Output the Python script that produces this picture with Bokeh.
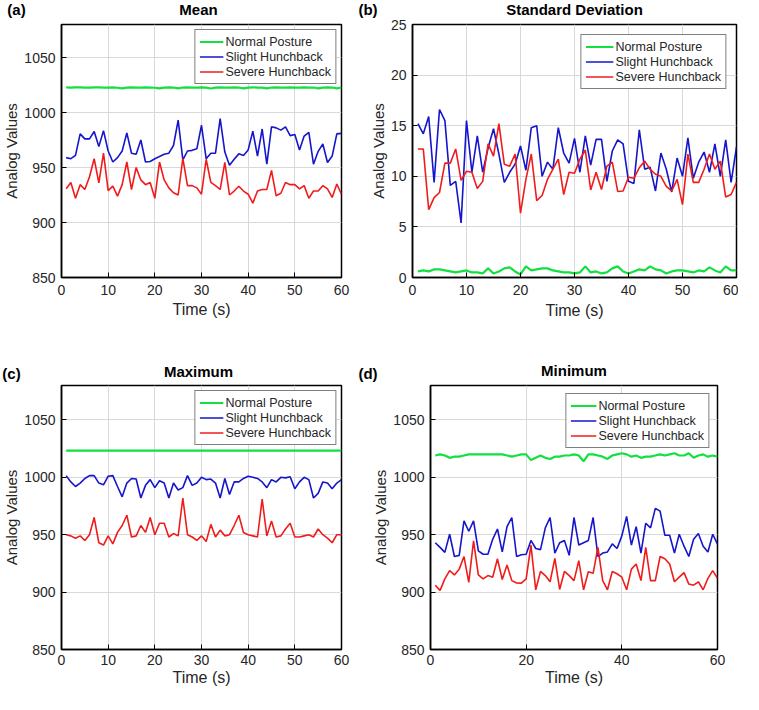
from bokeh.plotting import figure
from bokeh.models import Range1d, FixedTicker, Label
from bokeh.layouts import column, row
from bokeh.embed import file_html
from bokeh.resources import INLINE

time_s = list(range(1, 61))
series_names = ["Normal Posture", "Slight Hunchback", "Severe Hunchback"]
series_colors = ["#12e040", "#1515cc", "#f01c1c"]
series_widths = [2.2, 1.6, 1.6]

panel_tags = ["(a)", "(b)", "(c)", "(d)"]
panel_titles = ["Mean", "Standard Deviation", "Maximum", "Minimum"]

xticks_fine = [0, 10, 20, 30, 40, 50, 60]
xticks_coarse = [0, 20, 40, 60]
yticks_analog = [850, 900, 950, 1000, 1050]
yticks_sd = [0, 5, 10, 15, 20, 25]

mean_normal = [1022.8, 1022.6, 1022.8, 1022.9, 1022.7, 1022.6, 1022.8, 1022.9, 1022.7, 1022.6,
               1022.8, 1022.5, 1022.0, 1022.6, 1022.8, 1022.7, 1022.6, 1022.8, 1022.7, 1022.5,
               1021.9, 1022.6, 1022.8, 1022.7, 1022.0, 1022.7, 1022.8, 1022.6, 1022.7, 1022.8,
               1022.6, 1021.8, 1022.6, 1022.8, 1022.7, 1022.6, 1022.8, 1022.7, 1021.9, 1022.6,
               1022.8, 1022.7, 1022.6, 1022.0, 1022.7, 1022.8, 1022.6, 1022.7, 1022.8, 1022.6,
               1022.7, 1022.8, 1022.6, 1022.7, 1022.0, 1022.6, 1022.8, 1022.7, 1022.0, 1022.7]
mean_slight = [959, 958, 961, 980.6, 976, 976, 982.7, 969, 983.5, 965,
               955, 959, 965, 981.5, 963, 962, 975, 955, 955.5, 958,
               960, 962, 963, 970, 993, 957, 965, 965.6, 967, 988.4,
               958, 963, 963, 994.5, 964, 952, 957.5, 962.4, 961, 966,
               983, 960.4, 985, 953, 987, 986, 984, 987, 979, 980,
               966, 978.6, 982, 953, 964.7, 971.4, 954.6, 960.4, 980.6, 981]
mean_severe = [930.6, 936.4, 922, 934.4, 930, 941.6, 958, 936, 963, 929,
               933, 924, 934.4, 955, 930, 950, 938.7, 934.4, 936.4, 922,
               955, 938.7, 931.5, 927, 925, 958.4, 933.5, 933.5, 931.5, 925.7,
               957.5, 936.4, 933.5, 930, 954.6, 925, 928.6, 933, 928.6, 925.7,
               917.6, 928.6, 930, 930, 947.4, 924.3, 926.6, 936.4, 934.4, 934.4,
               930.6, 933.5, 922, 928.6, 928.6, 933.5, 930.6, 922.8, 935, 925.7]

sd_normal = [0.6, 0.7, 0.6, 0.8, 0.8, 0.7, 0.6, 0.5, 0.6, 0.7,
             0.5, 0.5, 0.4, 0.9, 0.4, 0.6, 0.9, 1.0, 0.6, 0.3,
             1.1, 0.7, 0.8, 0.9, 0.9, 0.7, 0.6, 0.5, 0.5, 0.4,
             0.5, 1.1, 0.5, 0.6, 0.4, 0.5, 0.9, 1.1, 0.6, 0.4,
             0.6, 0.8, 0.7, 1.1, 0.8, 0.7, 0.4, 0.6, 0.7, 0.7,
             0.6, 0.5, 0.7, 0.6, 1.0, 0.7, 0.5, 1.1, 0.7, 0.7]
sd_slight = [15.2, 14.2, 15.9, 9.4, 16.6, 15.5, 9.1, 9.5, 5.4, 15.5,
             10.4, 14.0, 10.4, 12.8, 14.7, 12.2, 9.4, 10.4, 11.2, 13.0,
             10.6, 14.8, 15.0, 10.0, 11.4, 10.7, 14.8, 12.3, 11.3, 13.75,
             10.4, 14.0, 11.1, 13.65, 13.65, 9.5, 12.5, 13.6, 13.2, 9.5,
             9.3, 14.6, 10.7, 10.9, 8.55, 12.3, 10.7, 8.45, 11.8, 10.0,
             13.8, 9.8, 11.4, 12.4, 10.4, 13.2, 10.0, 13.6, 9.4, 12.9]
sd_severe = [12.7, 12.7, 6.7, 7.9, 8.4, 11.3, 11.3, 12.7, 9.6, 10.5,
             10.4, 8.8, 9.5, 13.2, 12.0, 15.2, 11.2, 11.0, 12.2, 6.35,
             9.7, 12.2, 7.6, 8.1, 9.7, 10.7, 11.7, 8.2, 10.4, 10.3,
             11.7, 12.6, 8.65, 10.4, 8.7, 11.0, 11.4, 8.5, 8.55, 9.9,
             9.8, 10.85, 11.5, 10.7, 10.2, 10.0, 9.0, 8.55, 9.7, 7.2,
             12.2, 9.4, 9.4, 10.7, 12.2, 10.7, 11.5, 7.95, 8.2, 9.4]

max_normal = [1023.2, 1023.2, 1023.2, 1023.2, 1023.2, 1023.2, 1023.2, 1023.2, 1023.2, 1023.2,
              1023.2, 1023.2, 1023.2, 1023.2, 1023.2, 1023.2, 1023.2, 1023.2, 1023.2, 1023.2,
              1023.2, 1023.2, 1023.2, 1023.2, 1023.2, 1023.2, 1023.2, 1023.2, 1023.2, 1023.2,
              1023.2, 1023.2, 1023.2, 1023.2, 1023.2, 1023.2, 1023.2, 1023.2, 1023.2, 1023.2,
              1023.2, 1023.2, 1023.2, 1023.2, 1023.2, 1023.2, 1023.2, 1023.2, 1023.2, 1023.2,
              1023.2, 1023.2, 1023.2, 1023.2, 1023.2, 1023.2, 1023.2, 1023.2, 1023.2, 1023.2]
max_slight = [1001.5, 996, 992, 995, 999, 1001.5, 1001.5, 995, 993.5, 1001,
              1001.5, 992, 983, 995, 999, 998.5, 982, 993, 998, 991,
              997, 995, 982, 995, 989, 991, 1001.5, 993, 995, 1000,
              998, 998.5, 995, 982, 999, 985, 996, 996, 999, 1001,
              1000, 999, 996, 991, 998, 996, 1000, 999.5, 1000.5, 990,
              996, 1000, 998, 982, 986, 996, 995, 990, 995, 998]
max_severe = [950, 949, 947, 949, 945, 950, 965, 943, 941, 949,
              942, 952, 958, 967, 948, 949, 958, 952, 965, 950,
              960, 960, 948, 951, 949, 982, 950, 948, 945, 949,
              944, 959, 948, 954, 949, 950, 958, 967, 952, 950,
              949, 948, 981, 949, 962, 948, 949, 955, 960, 948,
              948, 949, 950, 948, 955, 950, 947, 943, 950, 950]

min_normal = [1019, 1020, 1019, 1017, 1018, 1018, 1019, 1020, 1020, 1020,
              1020, 1020, 1020, 1020, 1020, 1019, 1018, 1019, 1020, 1020,
              1015, 1017, 1019, 1017, 1016, 1018, 1018, 1019, 1019, 1020,
              1019, 1014, 1020, 1020, 1019, 1018, 1016, 1019, 1020, 1021,
              1020, 1018, 1019, 1017, 1018, 1018, 1019, 1020, 1019, 1020,
              1021, 1019, 1019, 1021, 1017, 1019, 1020, 1018, 1019, 1018]
min_slight = [943, 939, 934.6, 950.4, 931, 932, 962, 953, 962, 936,
              933, 933, 946, 955, 935, 957, 965, 931, 932.5, 933,
              945, 938, 937, 956, 965, 934, 943, 945, 932, 965,
              941, 943, 945, 965, 931, 934, 935, 942, 938, 949,
              966, 941, 957, 934, 960, 956, 973, 970.5, 949.5, 949.5,
              934, 950.4, 940, 931, 946, 951, 940, 935, 950.4, 941.8]
min_severe = [906, 901.5, 911.5, 918.7, 915, 920, 931, 908.5, 944.7, 915,
              911.5, 914.4, 913, 929, 911, 923.6, 910, 908, 907.8, 911.5,
              941, 902, 918, 914.4, 909, 929.4, 902.3, 918, 914.4, 910,
              927.4, 902, 917.8, 916.4, 939, 910, 902, 918, 916, 913,
              902, 920, 924.5, 910, 939, 910, 910, 931, 929, 924.5,
              909, 913, 917, 907, 906, 909, 902, 912, 918.7, 912]

FONT = "Liberation Sans"
TXT = "#262626"
TOTAL_W = 738


def panel(width, height, borders, yr, yticks, xticks, series, legend_margin, glyph_w,
          x_standoffs):
    left, right, top, bottom = borders
    p = figure(width=width, height=height, output_backend="svg", toolbar_location=None,
               x_range=Range1d(0, 60), y_range=Range1d(*yr), title=None,
               min_border_left=left, min_border_right=right,
               min_border_top=top, min_border_bottom=bottom)
    p.background_fill_color = "white"
    p.border_fill_color = "white"
    p.outline_line_color = "black"
    p.outline_line_width = 1.5
    for ys, name, col, lw in zip(series, series_names, series_colors, series_widths):
        p.line(time_s, ys, line_color=col, line_width=lw, legend_label=name)
    p.xaxis.ticker = FixedTicker(ticks=xticks)
    p.yaxis.ticker = FixedTicker(ticks=yticks)
    for ax in (p.xaxis[0], p.yaxis[0]):
        ax.axis_line_color = "black"
        ax.axis_line_width = 1.5
        ax.major_tick_in = 5
        ax.major_tick_out = 0
        ax.major_tick_line_color = "black"
        ax.minor_tick_line_color = None
        ax.major_label_text_font = FONT
        ax.major_label_text_font_size = "14px"
        ax.major_label_text_color = TXT
        ax.axis_label_text_font = FONT
        ax.axis_label_text_font_style = "normal"
        ax.axis_label_text_color = TXT
    p.xaxis.axis_label = "Time (s)"
    p.xaxis.axis_label_text_font_size = "16px"
    p.xaxis.major_label_standoff = x_standoffs[0]
    p.xaxis.axis_label_standoff = x_standoffs[1]
    p.yaxis.axis_label = "Analog Values"
    p.yaxis.axis_label_text_font_size = "15px"
    p.yaxis.major_label_standoff = 6
    p.yaxis.axis_label_standoff = 1
    p.grid.grid_line_color = "#d9d9d9"
    p.grid.grid_line_width = 1
    lg = p.legend[0]
    lg.location = "top_right"
    lg.margin = legend_margin
    lg.padding = 4
    lg.spacing = 0
    lg.glyph_width = glyph_w
    lg.glyph_height = 15
    lg.label_height = 15
    lg.label_standoff = 2
    lg.label_text_font = FONT
    lg.label_text_font_size = "12.5px"
    lg.label_text_color = TXT
    lg.border_line_color = "black"
    lg.border_line_width = 1.5
    lg.background_fill_color = "white"
    lg.background_fill_alpha = 1.0
    return p


def strip(height, items):
    s = figure(width=TOTAL_W, height=height, output_backend="svg", toolbar_location=None,
               x_range=Range1d(0, TOTAL_W), y_range=Range1d(0, height), title=None,
               x_axis_location=None, y_axis_location=None,
               min_border_left=0, min_border_right=0, min_border_top=0, min_border_bottom=0)
    s.grid.visible = False
    s.outline_line_color = None
    s.background_fill_color = "white"
    s.border_fill_color = "white"
    for text, x, y in items:
        s.add_layout(Label(x=x, y=y, text=text, text_font=FONT, text_font_style="bold",
                           text_font_size="15px", text_color="black",
                           text_align="center", text_baseline="middle"))
    return s


top_strip = strip(18, [(panel_tags[0], 16, 9), (panel_titles[0], 198, 9.3),
                       (panel_tags[1], 367.5, 9), (panel_titles[1], 574, 9.3)])
mid_strip = strip(24, [(panel_tags[2], 11, 9), (panel_titles[2], 198, 11),
                       (panel_tags[3], 367.5, 9), (panel_titles[3], 573.5, 12)])

pa = panel(352, 340, (55, 11, 1, 79), (850, 1080), yticks_analog, xticks_fine,
           [mean_normal, mean_slight, mean_severe], 5, 24, (7, 3))
pb = panel(386, 340, (60, 2, 6, 81), (0, 25), yticks_sd, xticks_fine,
           [sd_normal, sd_slight, sd_severe], 10, 28, (7, 4))
pc = panel(352, 307, (55, 11, 3, 40), (850, 1080), yticks_analog, xticks_fine,
           [max_normal, max_slight, max_severe], 5, 24, (5, 1))
pd = panel(386, 307, (78, 21, 1, 40), (850, 1080), yticks_analog, xticks_coarse,
           [min_normal, min_slight, min_severe], 8, 26, (5, 1))

layout = column(top_strip, row(pa, pb), mid_strip, row(pc, pd))
open("out.html", "w").write(file_html(layout, INLINE))
